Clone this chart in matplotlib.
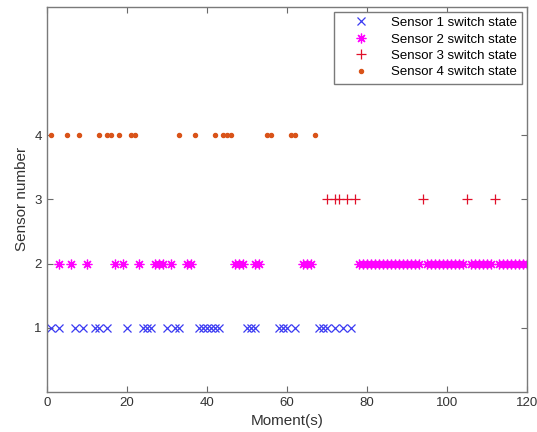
import matplotlib.pyplot as plt
import numpy as np

plt.rcParams['font.family'] = ['Liberation Sans', 'DejaVu Sans']

# moments (s) at which each sensor switches
t_s1 = [1, 3, 7, 9, 12, 13, 15, 20, 24, 25, 26, 30, 32, 33, 38, 39, 40, 41,
        42, 43, 50, 51, 52, 58, 59, 60, 62, 68, 69, 70, 72, 74, 76]
t_s2 = [3, 6, 10, 17, 19, 23, 27, 28, 29, 31, 35, 36, 47, 48, 49, 52, 53,
        64, 65, 66,
        78, 79, 80, 81, 82, 83, 84, 85, 86, 87, 88, 89, 90, 91, 92, 93,
        95, 96, 97, 98, 99, 100, 101, 102, 103, 104,
        106, 107, 108, 109, 110, 111,
        113, 114, 115, 116, 117, 118, 119, 120]
t_s3 = [70, 72, 73, 75, 77, 94, 105, 112]
t_s4 = [1, 5, 8, 13, 15, 16, 18, 21, 22, 33, 37, 42, 44, 45, 46, 55, 56,
        61, 62, 67]

sensor_ids = [1, 2, 3, 4]
labels = ['Sensor 1 switch state', 'Sensor 2 switch state',
          'Sensor 3 switch state', 'Sensor 4 switch state']
# MATLAB-like asterisk: 8 arms
markers = ['x', (8, 2, 0), '+', '.']
colors = ['#3a3af2', '#ff00ff', '#e0102a', '#d95319']
sizes = [6, 7, 7, 6]

fig = plt.figure(figsize=(5.37, 4.32), dpi=100)
ax = fig.add_axes([0.087, 0.093, 0.894, 0.891])

for tt, sid, lab, mk, col, ms in zip([t_s1, t_s2, t_s3, t_s4], sensor_ids,
                                     labels, markers, colors, sizes):
    ax.plot(tt, np.full(len(tt), sid), linestyle='none', marker=mk,
            color=col, markersize=ms, markeredgewidth=0.9, label=lab)

ax.set_xlim(0, 120)
ax.set_ylim(0, 6)
ax.set_xticks([0, 20, 40, 60, 80, 100, 120])
ax.set_yticks(sensor_ids)
ax.tick_params(direction='in', top=True, right=True, length=4,
               color='#6a6a6a', labelcolor='#333333', labelsize=9.5)
for sp in ax.spines.values():
    sp.set_color('#7a7a7a')
    sp.set_linewidth(1.0)

ax.set_xlabel('Moment(s)', fontsize=11, color='#333333', labelpad=4)
ax.set_ylabel('Sensor number', fontsize=11, color='#333333', labelpad=4)

leg = ax.legend(loc='upper right', fontsize=9.5, fancybox=False,
                framealpha=1, edgecolor='#7a7a7a', borderaxespad=0.35,
                handletextpad=0.7, borderpad=0.4, labelspacing=0.32,
                handlelength=3.2)
leg.get_frame().set_linewidth(1.0)

fig.savefig('out.png', dpi=100)
